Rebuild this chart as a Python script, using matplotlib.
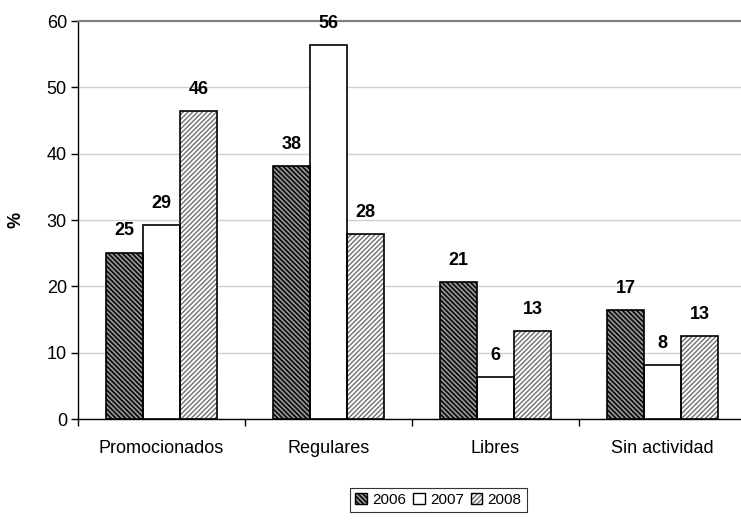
import numpy as np
import matplotlib
matplotlib.use("Agg")
import matplotlib.pyplot as plt
from matplotlib.patches import Patch

plt.rcParams['font.family'] = ['Liberation Sans', 'DejaVu Sans']
plt.rcParams['hatch.linewidth'] = 1.0

categories = ["Promocionados", "Regulares", "Libres", "Sin actividad"]
years = ["2006", "2007", "2008"]
values = {
    "2006": [25.1, 38.2, 20.7, 16.4],
    "2007": [29.3, 56.4, 6.4, 8.2],
    "2008": [46.5, 27.9, 13.3, 12.5],
}
labels = {
    "2006": ["25", "38", "21", "17"],
    "2007": ["29", "56", "6", "8"],
    "2008": ["46", "28", "13", "13"],
}

# face, hatch colour, hatch pattern
styles = {
    "2006": ("#141414", "#a8a8a8", "\\" * 7),
    "2007": ("white", "white", ""),
    "2008": ("white", "#707070", "/" * 7),
}

fig = plt.figure(figsize=(7.41, 5.2), dpi=100)
ax = fig.add_axes([78 / 741, 1 - 419 / 520, 668 / 741, 398 / 520])

x = np.arange(len(categories)) + 0.5
w = 0.222

handles = []
for i, yr in enumerate(years):
    fc, hc, hatch = styles[yr]
    pos = x + (i - 1) * w
    ax.bar(pos, values[yr], w, color=fc, edgecolor=hc, hatch=hatch,
           linewidth=0, zorder=2)
    ax.bar(pos, values[yr], w, facecolor='none', edgecolor='black',
           linewidth=1.2, zorder=3)
    for px, v, lab in zip(pos, values[yr], labels[yr]):
        ax.annotate(lab, (px, v), xytext=(0, 15.5), textcoords='offset points',
                    ha='center', va='center', fontsize=13, fontweight='bold')
    h1 = Patch(facecolor=fc, edgecolor=hc, hatch=hatch, linewidth=0)
    h2 = Patch(facecolor='none', edgecolor='black', linewidth=1.0)
    handles.append((h1, h2))

ax.set_xlim(0, 4)
ax.set_ylim(0, 60)
ax.set_yticks(np.arange(0, 61, 10))
ax.yaxis.grid(True, color='#d0d0d0', linewidth=1.0, zorder=0)
ax.set_axisbelow(True)

ax.set_xticks(np.arange(0, 5))
ax.set_xticklabels([])
ax.set_xticks(x, minor=True)
ax.set_xticklabels(categories, minor=True)
ax.tick_params(axis='x', which='major', length=5, width=1, direction='out')
ax.tick_params(axis='x', which='minor', length=0, pad=15, labelsize=13)
ax.tick_params(axis='y', length=5, width=1, direction='out', labelsize=13, pad=3)

ax.spines['right'].set_visible(False)
ax.spines['top'].set_color('#808080')
ax.spines['top'].set_linewidth(1.5)
ax.spines['left'].set_linewidth(1.0)
ax.spines['bottom'].set_linewidth(1.0)

ax.set_ylabel("%", fontsize=13, fontweight='bold', labelpad=16)

leg = fig.legend(handles, years, loc='center', ncol=3,
                 bbox_to_anchor=(438.5 / 741, 1 - 500 / 520),
                 fontsize=11, frameon=True, fancybox=False,
                 handlelength=0.75, handleheight=0.75, handletextpad=0.35,
                 columnspacing=0.45, borderpad=0.35, borderaxespad=0)
leg.get_frame().set_edgecolor('black')
leg.get_frame().set_linewidth(0.8)

fig.savefig("out.png", dpi=100)
